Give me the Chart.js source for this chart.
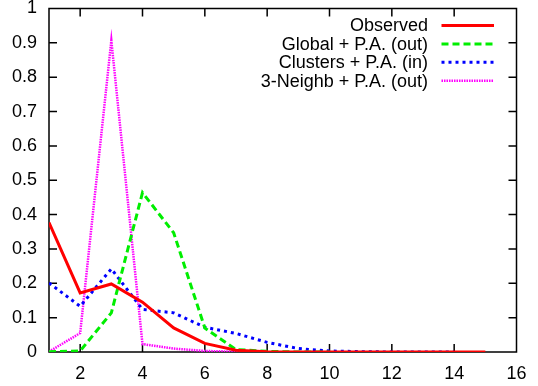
<!DOCTYPE html>
<html>
<head>
<meta charset="utf-8">
<script src="https://cdn.jsdelivr.net/npm/chart.js@4.4.1/dist/chart.umd.min.js"></script>
<style>
  html, body { margin: 0; padding: 0; background: #fff; }
  canvas { display: block; }
</style>
</head>
<body>
<canvas id="distChart" width="538" height="386"></canvas>
<script>
// values, one per x = 1, 2, 3 ...
const xSteps     = [1, 2, 3, 4, 5, 6, 7, 8, 9, 10, 11, 12, 13, 14, 15];
const observed   = [0.377, 0.172, 0.198, 0.145, 0.070, 0.025, 0.005, 0.001, 0, 0, 0, 0, 0, 0, 0];
const globalPA   = [0.001, 0.003, 0.114, 0.464, 0.347, 0.070, 0.007, 0.002, 0, 0];
const clustersPA = [0.201, 0.133, 0.242, 0.124, 0.114, 0.072, 0.054, 0.028, 0.010, 0.003, 0.001, 0, 0, 0];
const neighbPA   = [0.001, 0.055, 0.907, 0.023, 0.010, 0.003, 0.001, 0];

const seriesNames = ['Observed', 'Global + P.A. (out)', 'Clusters + P.A. (in)', '3-Neighb + P.A. (out)'];

const xTicks = [2, 4, 6, 8, 10, 12, 14, 16];
const yTicks = [0, 0.1, 0.2, 0.3, 0.4, 0.5, 0.6, 0.7, 0.8, 0.9, 1];
const yTickLabels = ['0', '0.1', '0.2', '0.3', '0.4', '0.5', '0.6', '0.7', '0.8', '0.9', '1'];

const FONT = '"Liberation Sans", Arial, Helvetica, sans-serif';

function pts(vals) {
  return vals.map((v, i) => ({ x: xSteps[i], y: v }));
}

// gnuplot style box with inward ticks on all four sides
const framePlugin = {
  id: 'frame',
  beforeDatasetsDraw(chart) {
    const { ctx, chartArea: a, scales } = chart;
    ctx.save();
    ctx.strokeStyle = '#000';
    ctx.lineWidth = 1.5;
    ctx.beginPath();
    xTicks.forEach(v => {
      const px = scales.x.getPixelForValue(v);
      if (px >= a.right - 1) return;
      ctx.moveTo(px, a.bottom); ctx.lineTo(px, a.bottom - 8);
      ctx.moveTo(px, a.top);    ctx.lineTo(px, a.top + 8);
    });
    yTicks.forEach(v => {
      const py = scales.y.getPixelForValue(v);
      if (py <= a.top + 1 || py >= a.bottom - 1) return;
      ctx.moveTo(a.left, py);  ctx.lineTo(a.left + 8, py);
      ctx.moveTo(a.right, py); ctx.lineTo(a.right - 8, py);
    });
    ctx.stroke();
    ctx.strokeRect(a.left, a.top, a.right - a.left, a.bottom - a.top);
    ctx.restore();
  }
};

// key in the top right: text first, line sample after it
const keyPlugin = {
  id: 'key',
  afterDraw(chart) {
    const ctx = chart.ctx;
    ctx.save();
    ctx.font = '18px ' + FONT;
    ctx.textAlign = 'right';
    ctx.textBaseline = 'middle';
    chart.data.datasets.forEach((ds, i) => {
      const y = 25.5 + i * 18.4;
      ctx.fillStyle = '#000';
      ctx.fillText(ds.label, 428, y + 1);
      ctx.strokeStyle = ds.borderColor;
      ctx.lineWidth = ds.borderWidth;
      ctx.setLineDash(ds.borderDash || []);
      ctx.beginPath();
      ctx.moveTo(441.5, y);
      ctx.lineTo(494, y);
      ctx.stroke();
    });
    ctx.restore();
  }
};

const datasets = [
  { label: seriesNames[0], data: pts(observed),   borderColor: '#ff0000', borderWidth: 3,   borderDash: [] },
  { label: seriesNames[1], data: pts(globalPA),   borderColor: '#00ee00', borderWidth: 3,   borderDash: [7, 4] },
  { label: seriesNames[2], data: pts(clustersPA), borderColor: '#0000ff', borderWidth: 3,   borderDash: [3, 4] },
  { label: seriesNames[3], data: pts(neighbPA),   borderColor: '#ff00ff', borderWidth: 2.5, borderDash: [1.5, 1] }
];

new Chart(document.getElementById('distChart'), {
  type: 'line',
  data: { datasets: datasets },
  options: {
    responsive: false,
    animation: false,
    devicePixelRatio: 1,
    layout: { padding: { left: 0, right: 21.5, top: 8.5, bottom: 0 } },
    elements: {
      point: { radius: 0 },
      line: { tension: 0, fill: false, borderCapStyle: 'butt', borderJoinStyle: 'miter' }
    },
    plugins: {
      legend: { display: false },
      tooltip: { enabled: false }
    },
    scales: {
      x: {
        type: 'linear',
        min: 1,
        max: 16,
        grid: { display: false, drawTicks: false },
        border: { display: false },
        afterBuildTicks: s => { s.ticks = xTicks.map(v => ({ value: v })); },
        afterFit: s => { s.height = 34; s.paddingLeft = 0; s.paddingRight = 0; },
        ticks: {
          maxRotation: 0,
          autoSkip: false,
          padding: 11,
          color: '#000',
          font: { family: FONT, size: 18 }
        }
      },
      y: {
        min: 0,
        max: 1,
        grid: { display: false, drawTicks: false },
        border: { display: false },
        afterBuildTicks: s => { s.ticks = yTicks.map(v => ({ value: v })); },
        afterFit: s => { s.width = 49; s.paddingTop = 0; s.paddingBottom = 0; },
        ticks: {
          autoSkip: false,
          padding: 12,
          color: '#000',
          font: { family: FONT, size: 18 },
          callback: (v, i) => yTickLabels[i]
        }
      }
    }
  },
  plugins: [framePlugin, keyPlugin]
});
</script>
</body>
</html>
